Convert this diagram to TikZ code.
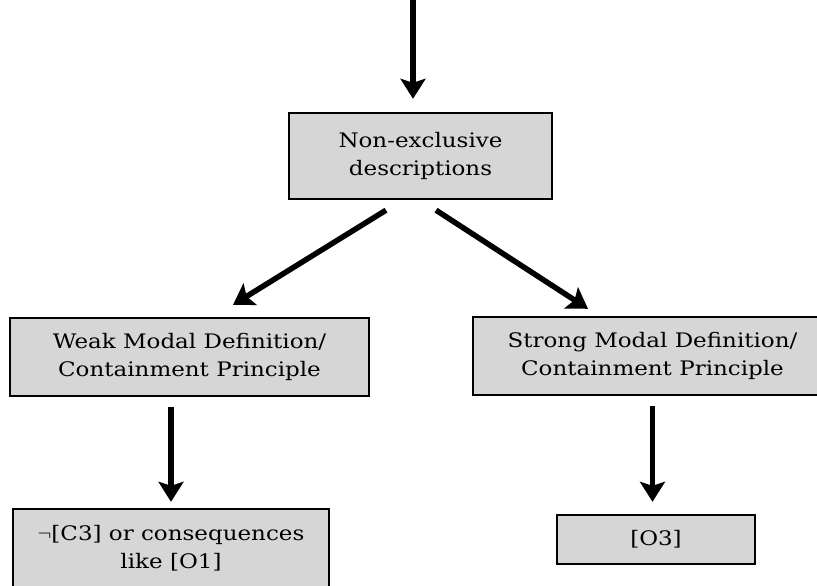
\documentclass[tikz,border=0pt]{standalone}
\usepackage{fontspec}
\setmainfont{DejaVu Serif}[FakeStretch=1.15]
\usetikzlibrary{arrows.meta}
\definecolor{boxgray}{HTML}{D6D6D6}

\begin{document}
\begin{tikzpicture}[x=1pt, y=-1pt,
  box/.style={draw, line width=2.4pt, fill=boxgray, align=center,
    inner sep=0pt, font=\fontsize{20}{28}\selectfont},
  arr/.style={line width=5.5pt, -{Stealth[length=20pt, width=25pt, inset=4pt]}}]

\useasboundingbox (0,0) rectangle (817,586);

\coordinate (top) at (413,0);

\node[box, minimum width=263pt, minimum height=86pt] (desc) at (420.5,156)
  {Non-exclusive\\descriptions};

\node[box, minimum width=359pt, minimum height=78pt] (weak) at (189.5,357)
  {Weak Modal Definition/\\Containment Principle};

\node[box, minimum width=359pt, minimum height=78pt] (strong) at (652.5,356)
  {Strong Modal Definition/\\Containment Principle};

\node[box, minimum width=316pt, minimum height=78pt] (cons) at (171,548)
  {$\neg$[C3] or consequences\\like [O1]};

\node[box, minimum width=198pt, minimum height=49pt] (o3) at (656,539.5)
  {[O3]};

\draw[arr] (top) -- ([yshift=13pt]desc.north -| top);
\draw[arr] ([xshift=-34.5pt, yshift=-10pt]desc.south)
  -- ([xshift=43.5pt, yshift=12pt]weak.north);
\draw[arr] ([xshift=15.5pt, yshift=-10pt]desc.south)
  -- ([xshift=-64.5pt, yshift=7pt]strong.north);
\draw[arr] ([yshift=-10pt]weak.south -| cons.north) -- ([yshift=6pt]cons.north);
\draw[arr] ([yshift=-10pt]strong.south) -- ([yshift=12pt]o3.north -| strong.south);

\end{tikzpicture}
\end{document}
